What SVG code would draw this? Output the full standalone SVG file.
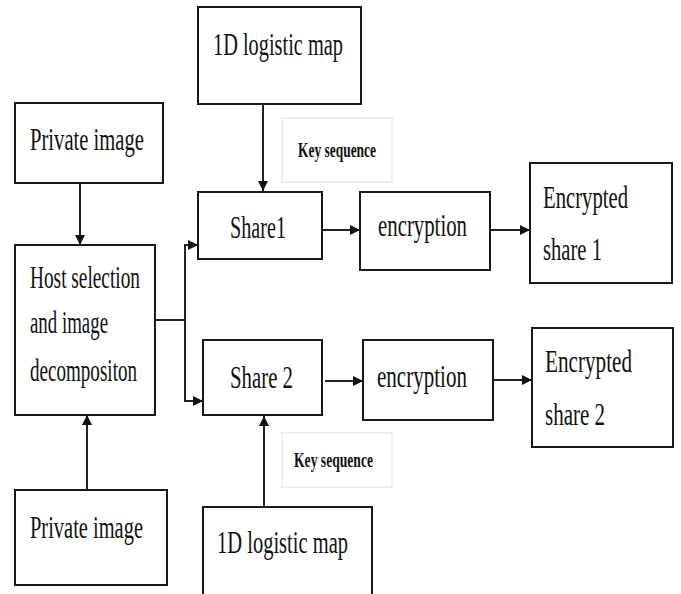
<svg xmlns="http://www.w3.org/2000/svg" width="681" height="594" viewBox="0 0 681 594">
<defs>
<style>
.box{fill:#fff;stroke:#1a1a1a;stroke-width:2}
.kbox{fill:#fff;stroke:#ece8da;stroke-width:1.5}
.t{font-family:"Liberation Serif","Times New Roman",serif;font-size:32px;fill:#111}
.k{font-family:"Liberation Serif","Times New Roman",serif;font-size:20px;font-weight:bold;fill:#111}
.c{fill:none;stroke:#222;stroke-width:2}
</style>
<marker id="ah" viewBox="0 0 10 10" refX="10" refY="5" markerWidth="11" markerHeight="10" markerUnits="userSpaceOnUse" orient="auto">
<path d="M0,0 L10,5 L0,10 Z" fill="#111"/>
</marker>
</defs>
<rect width="681" height="594" fill="#fff"/>
<g id="connectors">
<path class="c" d="M80,183 V245" marker-end="url(#ah)"/>
<path class="c" d="M87,490 V415" marker-end="url(#ah)"/>
<path class="c" d="M155,320 H185 V245 H198" marker-end="url(#ah)"/>
<path class="c" d="M185,320 V401 H203" marker-end="url(#ah)"/>
<path class="c" d="M263,104 V191" marker-end="url(#ah)"/>
<path class="c" d="M264,507 V416" marker-end="url(#ah)"/>
<path class="c" d="M322,230 H360" marker-end="url(#ah)"/>
<path class="c" d="M490,230 H530" marker-end="url(#ah)"/>
<path class="c" d="M325,381 H363" marker-end="url(#ah)"/>
<path class="c" d="M493,380 H532" marker-end="url(#ah)"/>
</g>
<g id="logistic1">
<rect class="box" x="198" y="7" width="163" height="97"/>
<text class="t" x="213" y="55" textLength="130" lengthAdjust="spacingAndGlyphs">1D logistic map</text>
</g>
<g id="private1">
<rect class="box" x="15" y="103" width="148" height="80"/>
<text class="t" x="30" y="150" textLength="114" lengthAdjust="spacingAndGlyphs">Private image</text>
</g>
<g id="key1">
<rect class="kbox" x="282" y="118" width="110" height="64"/>
<text class="k" x="298" y="157" textLength="78" lengthAdjust="spacingAndGlyphs">Key sequence</text>
</g>
<g id="share1">
<rect class="box" x="198" y="192" width="124" height="67"/>
<text class="t" x="230" y="238" textLength="56" lengthAdjust="spacingAndGlyphs">Share1</text>
</g>
<g id="enc1">
<rect class="box" x="360" y="192" width="130" height="78"/>
<text class="t" x="378" y="236" textLength="89" lengthAdjust="spacingAndGlyphs">encryption</text>
</g>
<g id="encshare1">
<rect class="box" x="530" y="163" width="142" height="120"/>
<text class="t" x="543" y="208" textLength="85" lengthAdjust="spacingAndGlyphs">Encrypted</text>
<text class="t" x="543" y="260" textLength="59" lengthAdjust="spacingAndGlyphs">share 1</text>
</g>
<g id="host">
<rect class="box" x="15" y="245" width="140" height="170"/>
<text class="t" x="30" y="288" textLength="110" lengthAdjust="spacingAndGlyphs">Host selection</text>
<text class="t" x="30" y="333" textLength="78" lengthAdjust="spacingAndGlyphs">and image</text>
<text class="t" x="30" y="381" textLength="107" lengthAdjust="spacingAndGlyphs">decompositon</text>
</g>
<g id="share2">
<rect class="box" x="203" y="340" width="119" height="75"/>
<text class="t" x="230" y="388" textLength="63" lengthAdjust="spacingAndGlyphs">Share 2</text>
</g>
<g id="enc2">
<rect class="box" x="363" y="340" width="130" height="80"/>
<text class="t" x="377" y="387" textLength="90" lengthAdjust="spacingAndGlyphs">encryption</text>
</g>
<g id="encshare2">
<rect class="box" x="532" y="328" width="141" height="119"/>
<text class="t" x="545" y="372" textLength="87" lengthAdjust="spacingAndGlyphs">Encrypted</text>
<text class="t" x="545" y="425" textLength="60" lengthAdjust="spacingAndGlyphs">share 2</text>
</g>
<g id="key2">
<rect class="kbox" x="282" y="433" width="110" height="54"/>
<text class="k" x="294" y="467" textLength="79" lengthAdjust="spacingAndGlyphs">Key sequence</text>
</g>
<g id="private2">
<rect class="box" x="15" y="490" width="152" height="95"/>
<text class="t" x="30" y="538" textLength="113" lengthAdjust="spacingAndGlyphs">Private image</text>
</g>
<g id="logistic2">
<rect class="box" x="203" y="507" width="169" height="100"/>
<text class="t" x="217" y="553" textLength="131" lengthAdjust="spacingAndGlyphs">1D logistic map</text>
</g>
</svg>
